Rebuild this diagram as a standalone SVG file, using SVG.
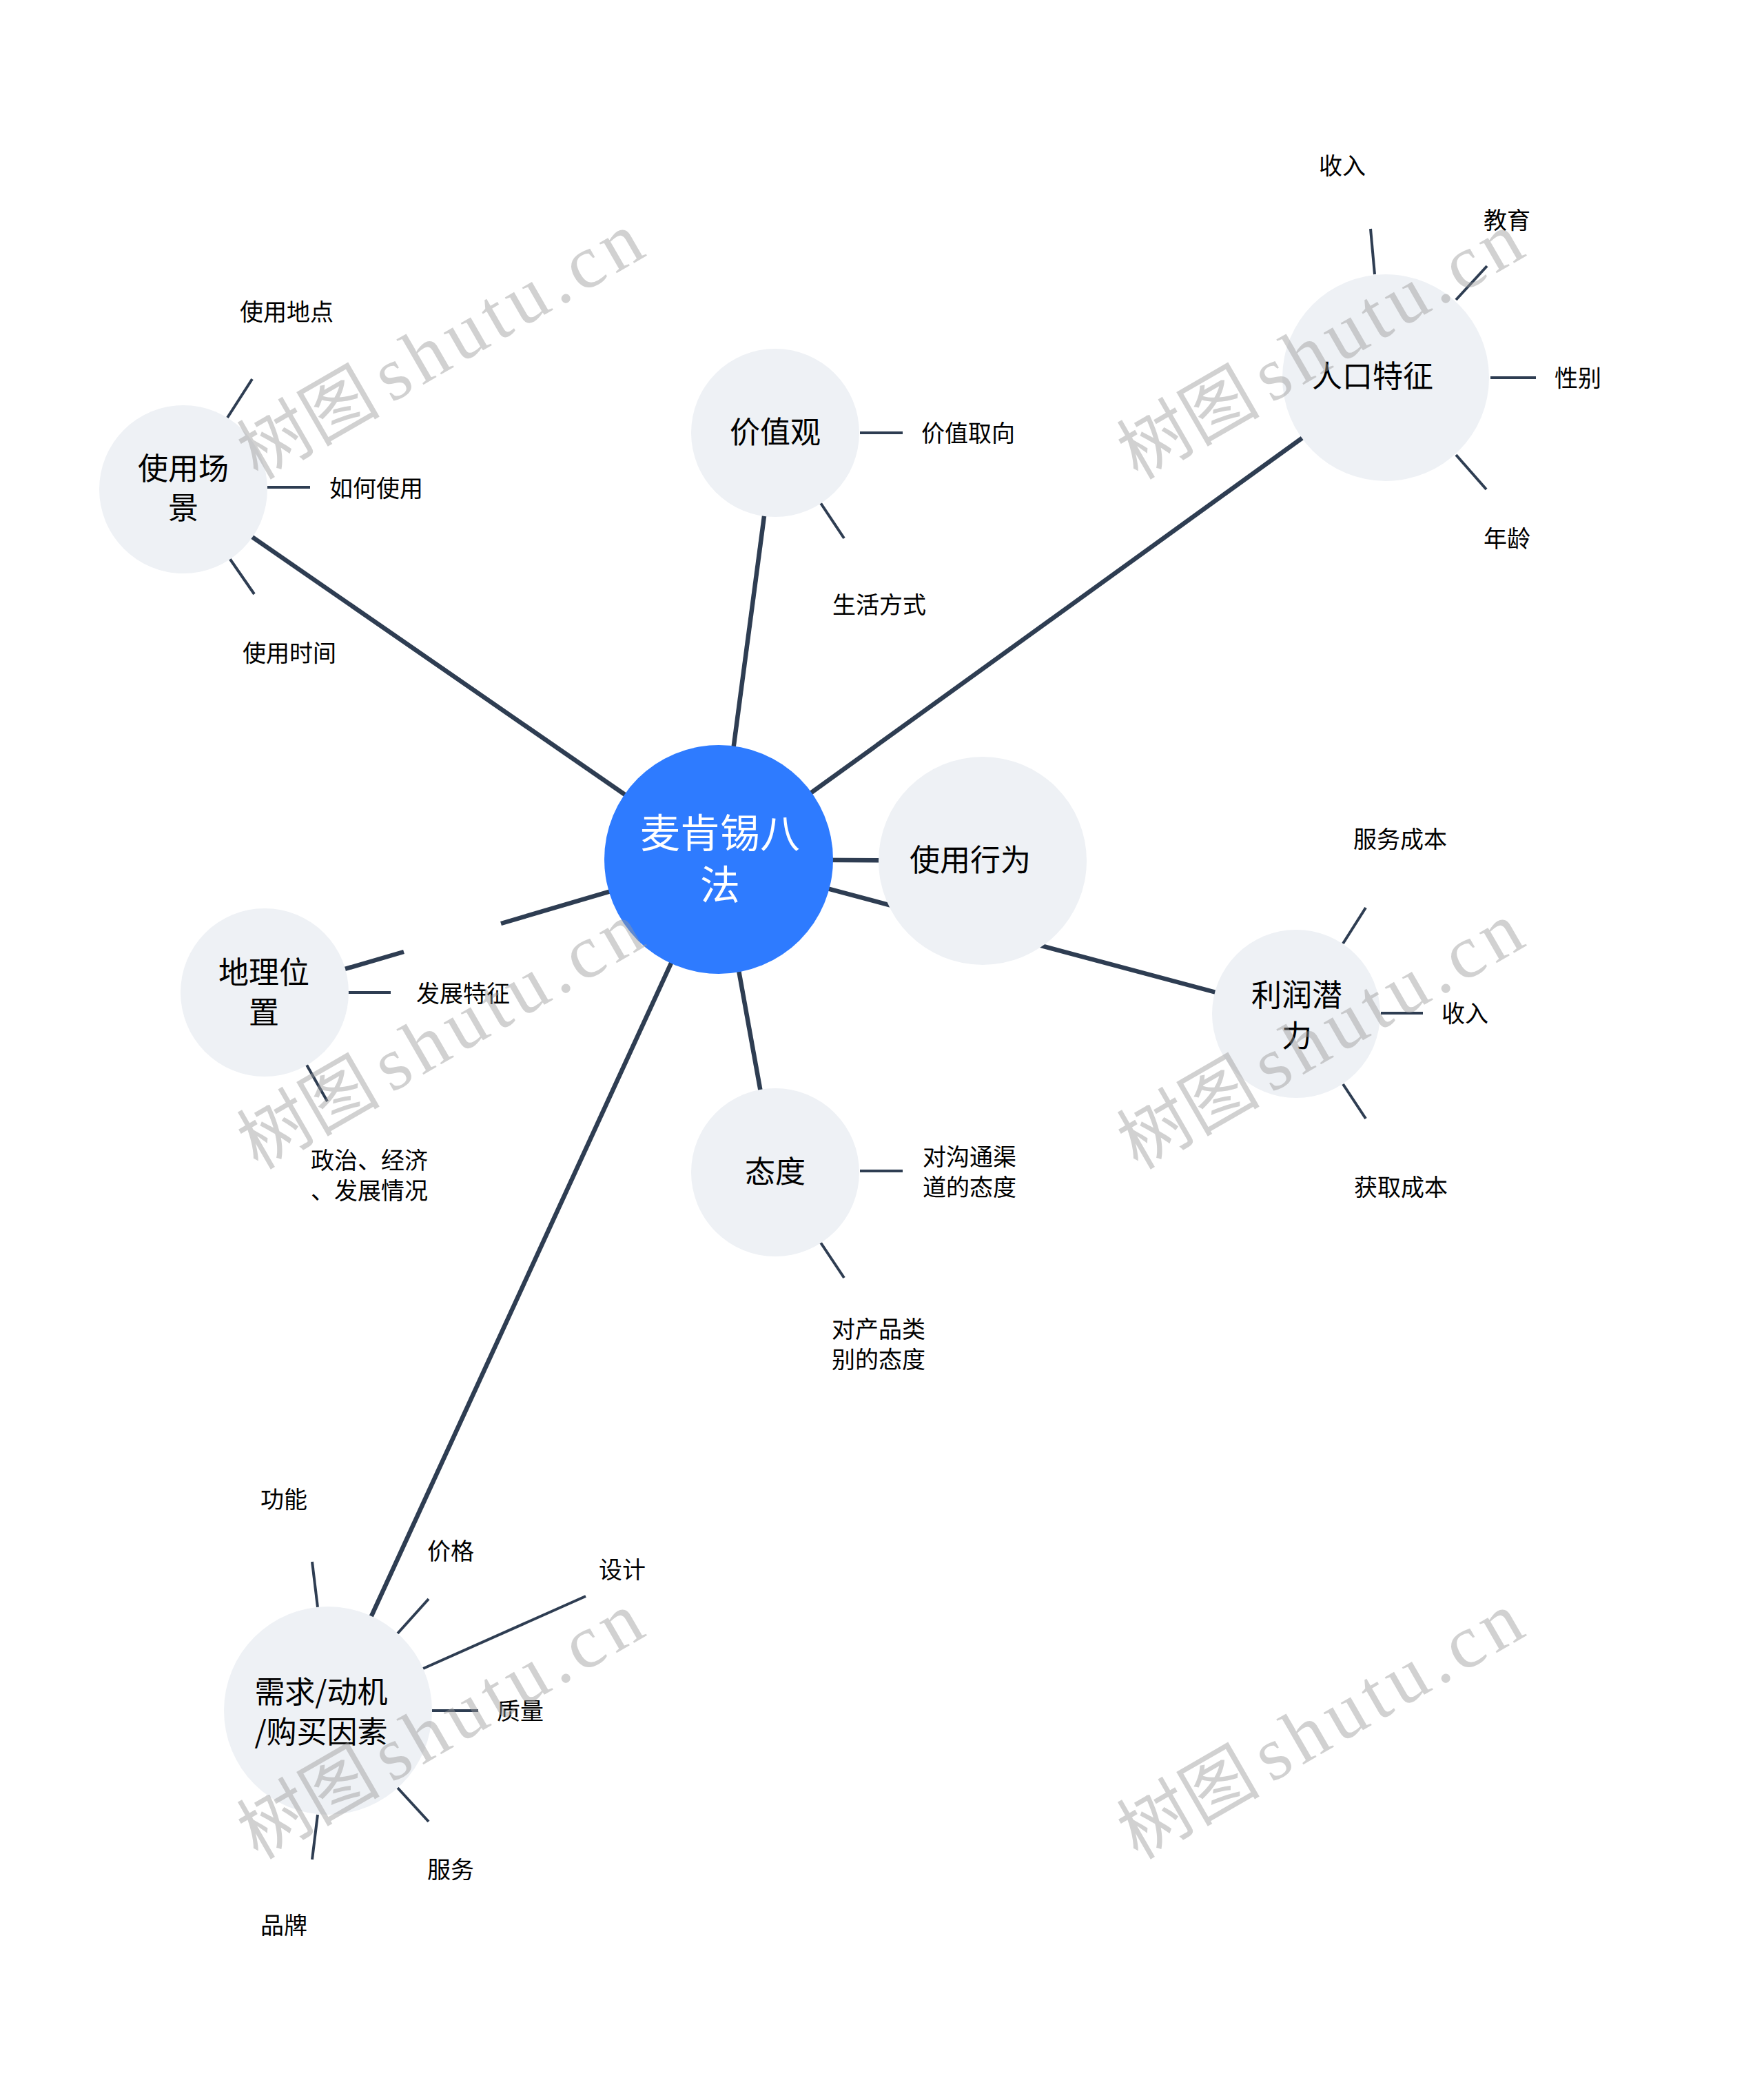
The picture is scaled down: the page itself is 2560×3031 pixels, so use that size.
<svg xmlns="http://www.w3.org/2000/svg" width="2560" height="3031" viewBox="0 0 2560 3031">
<style>
.main{stroke:#2e3d52;stroke-width:6.5;fill:none}
.sub{stroke:#2e3d52;stroke-width:4;fill:none}
.node{fill:#eef1f5}
.root{fill:#2e7bff}
.nt{font-family:"Noto Sans CJK SC",sans-serif;font-size:44px;fill:#000;text-anchor:middle}
.rt{font-family:"Noto Sans CJK SC",sans-serif;font-size:58px;fill:#fff;text-anchor:middle}
.lt{font-family:"Noto Sans CJK SC",sans-serif;font-size:34px;fill:#000;text-anchor:middle}
.wm1{font-family:"Noto Sans CJK SC",sans-serif;font-size:104px;fill:#9a9a9a;fill-opacity:0.45}
.wm2{font-family:"Liberation Serif",serif;font-size:110px;fill:#9a9a9a;fill-opacity:0.45}
</style>
<rect width="2560" height="3031" fill="#fff"/>
<g id="connectors">
<line class="main" x1="1043" y1="1247" x2="266" y2="710"/>
<line class="main" x1="1043" y1="1247" x2="1125" y2="628"/>
<line class="main" x1="1043" y1="1247" x2="2011" y2="548"/>
<line class="main" x1="1043" y1="1247" x2="1426" y2="1249"/>
<line class="main" x1="1043" y1="1247" x2="1881" y2="1471"/>
<line class="main" x1="1043" y1="1247" x2="1125" y2="1701"/>
<path class="main" d="M384,1440 L586,1381 M727,1340 L1043,1247"/>
<line class="main" x1="1043" y1="1247" x2="476" y2="2482"/>
<line class="sub" x1="330" y1="606" x2="366" y2="550"/>
<line class="sub" x1="388" y1="707" x2="450" y2="707"/>
<line class="sub" x1="333" y1="810" x2="369" y2="862"/>
<line class="sub" x1="1248" y1="628" x2="1310" y2="628"/>
<line class="sub" x1="1191" y1="730" x2="1225" y2="781"/>
<line class="sub" x1="1989" y1="332" x2="1995" y2="398"/>
<line class="sub" x1="2113" y1="435" x2="2158" y2="386"/>
<line class="sub" x1="2163" y1="548" x2="2229" y2="548"/>
<line class="sub" x1="2113" y1="660" x2="2157" y2="710"/>
<line class="sub" x1="1949" y1="1369" x2="1982" y2="1317"/>
<line class="sub" x1="2004" y1="1470" x2="2065" y2="1470"/>
<line class="sub" x1="1949" y1="1573" x2="1982" y2="1623"/>
<line class="sub" x1="1248" y1="1699" x2="1310" y2="1699"/>
<line class="sub" x1="1191" y1="1803" x2="1225" y2="1854"/>
<line class="sub" x1="505" y1="1440" x2="567" y2="1440"/>
<line class="sub" x1="445" y1="1545" x2="475" y2="1598"/>
<line class="sub" x1="453" y1="2266" x2="461" y2="2332"/>
<line class="sub" x1="577" y1="2370" x2="622" y2="2320"/>
<line class="sub" x1="614" y1="2421" x2="850" y2="2316"/>
<line class="sub" x1="627" y1="2482" x2="694" y2="2482"/>
<line class="sub" x1="577" y1="2594" x2="622" y2="2643"/>
<line class="sub" x1="461" y1="2633" x2="453" y2="2698"/>
</g>
<g id="root">
<circle class="root" cx="1043" cy="1247" r="166"/>
<text class="rt" x="1045" y="1230">麦肯锡八</text>
<text class="rt" x="1045" y="1305">法</text>
</g>
<g id="n-changjing">
<circle class="node" cx="266" cy="710" r="122"/>
<text class="nt" x="266" y="696">使用场</text>
<text class="nt" x="266" y="753">景</text>
</g>
<g id="n-jiazhiguan">
<circle class="node" cx="1125" cy="628" r="122"/>
<text class="nt" x="1125" y="643">价值观</text>
</g>
<g id="n-renkou">
<circle class="node" cx="2011" cy="548" r="150"/>
<text class="nt" x="1992" y="562">人口特征</text>
</g>
<g id="n-xingwei">
<circle class="node" cx="1426" cy="1249" r="151"/>
<text class="nt" x="1408" y="1264">使用行为</text>
</g>
<g id="n-lirun">
<circle class="node" cx="1881" cy="1471" r="122"/>
<text class="nt" x="1882" y="1460">利润潜</text>
<text class="nt" x="1882" y="1519">力</text>
</g>
<g id="n-taidu">
<circle class="node" cx="1125" cy="1701" r="122"/>
<text class="nt" x="1125" y="1716">态度</text>
</g>
<g id="n-dili">
<circle class="node" cx="384" cy="1440" r="122"/>
<text class="nt" x="383" y="1427">地理位</text>
<text class="nt" x="383" y="1485">置</text>
</g>
<g id="n-xuqiu">
<circle class="node" cx="476" cy="2482" r="151"/>
<text class="nt" x="466" y="2471">需求/动机</text>
<text class="nt" x="466" y="2529">/购买因素</text>
</g>
<g id="l-didian"><text class="lt" x="416" y="465">使用地点</text></g>
<g id="l-ruhe"><text class="lt" x="546" y="721">如何使用</text></g>
<g id="l-shijian"><text class="lt" x="420" y="960">使用时间</text></g>
<g id="l-quxiang"><text class="lt" x="1405" y="641">价值取向</text></g>
<g id="l-shenghuo"><text class="lt" x="1276" y="890">生活方式</text></g>
<g id="l-shouru1"><text class="lt" x="1948" y="253">收入</text></g>
<g id="l-jiaoyu"><text class="lt" x="2187" y="332">教育</text></g>
<g id="l-xingbie"><text class="lt" x="2290" y="561">性别</text></g>
<g id="l-nianling"><text class="lt" x="2187" y="794">年龄</text></g>
<g id="l-fuwuchengben"><text class="lt" x="2032" y="1230">服务成本</text></g>
<g id="l-shouru2"><text class="lt" x="2126" y="1483">收入</text></g>
<g id="l-huoqu"><text class="lt" x="2033" y="1735">获取成本</text></g>
<g id="l-goutong"><text class="lt" x="1407" y="1691">对沟通渠</text><text class="lt" x="1407" y="1735">道的态度</text></g>
<g id="l-chanpin"><text class="lt" x="1275" y="1941">对产品类</text><text class="lt" x="1275" y="1985">别的态度</text></g>
<g id="l-fazhan"><text class="lt" x="672" y="1454">发展特征</text></g>
<g id="l-zhengzhi"><text class="lt" x="536" y="1696">政治、经济</text><text class="lt" x="536" y="1740">、发展情况</text></g>
<g id="l-gongneng"><text class="lt" x="412" y="2188">功能</text></g>
<g id="l-jiage"><text class="lt" x="654" y="2263">价格</text></g>
<g id="l-sheji"><text class="lt" x="903" y="2290">设计</text></g>
<g id="l-zhiliang"><text class="lt" x="755" y="2495">质量</text></g>
<g id="l-fuwu"><text class="lt" x="654" y="2725">服务</text></g>
<g id="l-pinpai"><text class="lt" x="412" y="2806">品牌</text></g>
<g id="watermarks">
<g transform="translate(355,708) rotate(-30)"><text class="wm1" x="22" y="0">树图</text><text class="wm2" x="246" y="0" textLength="430" lengthAdjust="spacing">shutu.cn</text></g>
<g transform="translate(1632,708) rotate(-30)"><text class="wm1" x="22" y="0">树图</text><text class="wm2" x="246" y="0" textLength="430" lengthAdjust="spacing">shutu.cn</text></g>
<g transform="translate(355,1709) rotate(-30)"><text class="wm1" x="22" y="0">树图</text><text class="wm2" x="246" y="0" textLength="430" lengthAdjust="spacing">shutu.cn</text></g>
<g transform="translate(1632,1709) rotate(-30)"><text class="wm1" x="22" y="0">树图</text><text class="wm2" x="246" y="0" textLength="430" lengthAdjust="spacing">shutu.cn</text></g>
<g transform="translate(355,2710) rotate(-30)"><text class="wm1" x="22" y="0">树图</text><text class="wm2" x="246" y="0" textLength="430" lengthAdjust="spacing">shutu.cn</text></g>
<g transform="translate(1632,2710) rotate(-30)"><text class="wm1" x="22" y="0">树图</text><text class="wm2" x="246" y="0" textLength="430" lengthAdjust="spacing">shutu.cn</text></g>
</g>
</svg>
